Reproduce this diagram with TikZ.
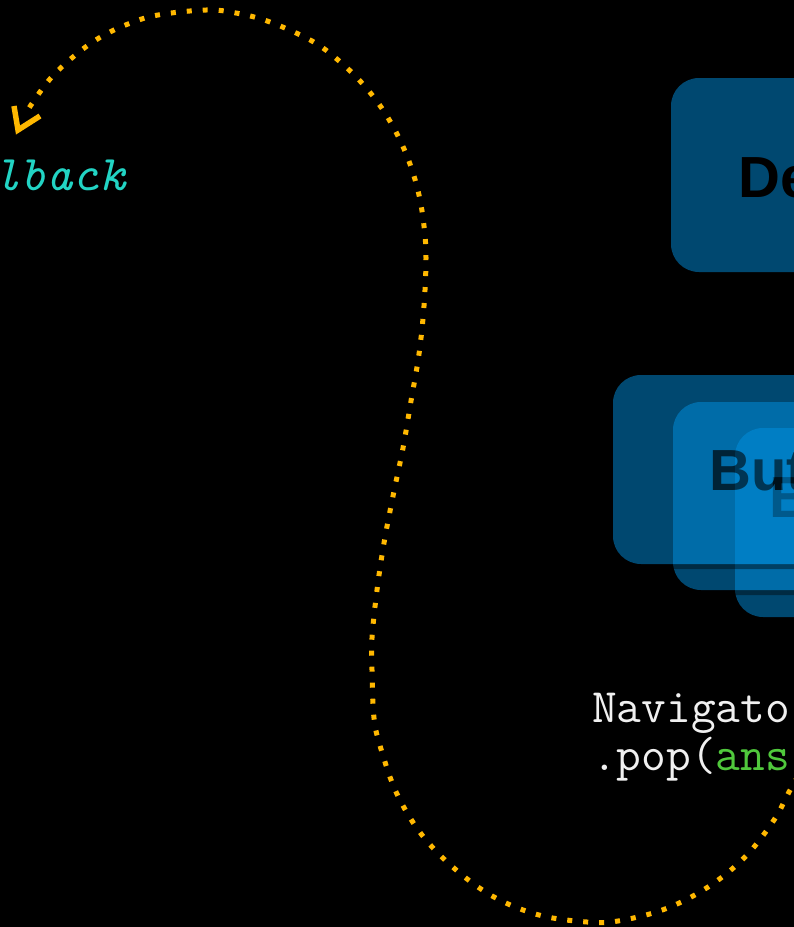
\documentclass[tikz,border=0pt]{standalone}
\usepackage{fontspec}
\newfontfamily\cardfont{Liberation Sans}
\usetikzlibrary{arrows.meta}

\definecolor{cardblue}{RGB}{0,144,224}
\definecolor{trail}{RGB}{255,184,0}
\definecolor{codecyan}{RGB}{34,212,196}
\definecolor{codegreen}{RGB}{80,200,60}
\definecolor{codewhite}{RGB}{240,240,240}

\tikzset{
  cardfill/.style={fill=cardblue, rounded corners=28pt},
  cardshade/.style={fill=black, opacity=0.8, rounded corners=28pt},
  cardlabel/.style={font=\cardfont\bfseries\fontsize{58}{60}\selectfont, text=black,
                    inner sep=0pt, anchor=base west},
  codeline/.style={font=\ttfamily\fontsize{48}{50}\selectfont, inner sep=0pt,
                   anchor=base west, text=codewhite},
  trailpath/.style={draw=trail, line width=5pt, dash pattern=on 5pt off 11pt},
  trailhead/.style={draw=trail, line width=5.5pt, line join=miter, line cap=butt},
}

\begin{document}
\begin{tikzpicture}[x=1pt, y=-1pt]
  % canvas
  \fill[black] (0,0) rectangle (794,927);
  \useasboundingbox (0,0) rectangle (794,927);

  % detail card
  \begin{scope}[transparency group, opacity=0.5]
    \fill[cardfill] (671,78) rectangle (1100,272);
    \node[cardlabel] (detail) at (738,197) {De};
  \end{scope}

  % stacked button cards, back to front
  \begin{scope}[transparency group, opacity=0.5]
    \fill[cardshade] (735,433) rectangle (1100,622);
    \fill[cardfill] (735,428) rectangle (1100,617);
  \end{scope}
  \begin{scope}[transparency group, opacity=0.5]
    \fill[cardshade] (673,407) rectangle (1100,595);
    \fill[cardfill] (673,402) rectangle (1100,590);
    \node[cardlabel] (buttonB) at (769,517) {But};
  \end{scope}
  \begin{scope}[transparency group, opacity=0.5]
    \fill[cardshade] (613,380) rectangle (1100,569);
    \fill[cardfill] (613,375) rectangle (1100,564);
    \node[cardlabel] (buttonA) at (709,490) {But};
  \end{scope}

  % code fragments
  \node[codeline] (nav) at (592,722) {Navigato};
  \node[codeline] (pop) at (592,770) {.pop(\textcolor{codegreen}{ans}};
  \node[codeline, text=codecyan, font=\ttfamily\itshape\fontsize{50}{52}\selectfont]
       (cb) at (-6,190) {lback};

  % dotted return trail, ending in an open chevron
  \coordinate (trailstart) at (806,762);
  \coordinate (trailend) at (18,130);
  \draw[trailpath]
    plot[smooth, tension=0.6] coordinates {
      (trailstart) (789,792) (774,820) (745,857) (708,887) (665,909)
      (618,921) (587,922) (539,915) (494,897) (455,869) (422,835)
      (397,794) (381,749) (374,718) (372,670) (372,638) (377,590)
      (384,543) (393,496) (403,448) (411,401) (419,354) (424,306)
      (426,258) (424,226) (419,195) (410,164) (397,134) (381,107)
      (361,82) (338,60) (312,41) (270,22) (236,13) (206,10)
      (158,15) (128,24) (99,38) (73,57) (50,79) (31,105) (26,114)
    };
  \draw[trailhead] (14,106) -- (trailend) -- (40,116);
\end{tikzpicture}
\end{document}
